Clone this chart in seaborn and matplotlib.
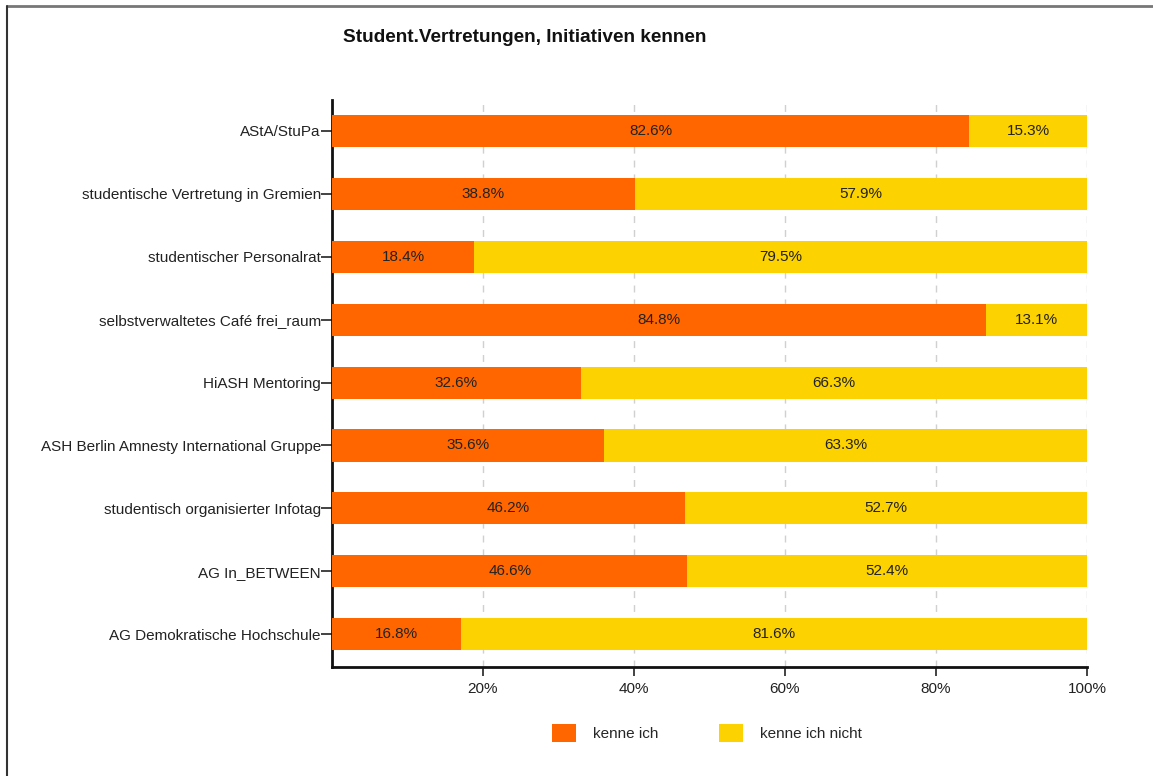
import matplotlib
matplotlib.use("Agg")
import matplotlib.pyplot as plt
import seaborn as sns
import pandas as pd
import numpy as np
from matplotlib.patches import Rectangle
from matplotlib.lines import Line2D

categories = [
    "AStA/StuPa",
    "studentische Vertretung in Gremien",
    "studentischer Personalrat",
    "selbstverwaltetes Café frei_raum",
    "HiASH Mentoring",
    "ASH Berlin Amnesty International Gruppe",
    "studentisch organisierter Infotag",
    "AG In_BETWEEN",
    "AG Demokratische Hochschule",
]
kenne_ich = [82.6, 38.8, 18.4, 84.8, 32.6, 35.6, 46.2, 46.6, 16.8]
kenne_ich_nicht = [15.3, 57.9, 79.5, 13.1, 66.3, 63.3, 52.7, 52.4, 81.6]
series_names = ["kenne ich", "kenne ich nicht"]
x_ticks = [20, 40, 60, 80, 100]
x_tick_labels = ["20%", "40%", "60%", "80%", "100%"]
title = "Student.Vertretungen, Initiativen kennen"

ORANGE = "#FF6600"
YELLOW = "#FCD200"

sns.set_theme(style="white")
plt.rcParams["font.family"] = ["Liberation Sans", "DejaVu Sans"]

a = np.array(kenne_ich)
b = np.array(kenne_ich_nicht)
tot = a + b
a_n = a / tot * 100
b_n = b / tot * 100

df = pd.DataFrame({"cat": categories, "a": a_n, "total": a_n + b_n})

fig = plt.figure(figsize=(11.53, 7.76), dpi=100)
W, H = 1153, 776
ax = fig.add_axes([332 / W, 1 - 667 / H, (1087 - 332) / W, (667 - 100) / H])

sns.barplot(data=df, y="cat", x="total", orient="h", color=YELLOW, width=0.51,
            saturation=1, ax=ax, edgecolor="none", zorder=3)
sns.barplot(data=df, y="cat", x="a", orient="h", color=ORANGE, width=0.51,
            saturation=1, ax=ax, edgecolor="none", zorder=3)

FS = 11
for i in range(len(categories)):
    ax.text(a_n[i] / 2, i, f"{kenne_ich[i]:.1f}%", ha="center", va="center",
            fontsize=FS, color="#222222", zorder=5)
    ax.text(a_n[i] + b_n[i] / 2, i, f"{kenne_ich_nicht[i]:.1f}%", ha="center",
            va="center", fontsize=FS, color="#222222", zorder=5)

ax.set_xlim(0, 100)
ax.set_ylim(len(categories) - 1 + 0.52, -0.49)
ax.set_xticks(x_ticks)
ax.set_xticklabels(x_tick_labels, fontsize=FS, color="#222222")
ax.set_xlabel("")
ax.set_ylabel("")
ax.tick_params(axis="y", labelsize=FS, labelcolor="#222222", left=True,
               length=8, width=1.2, color="#222222", pad=0)
ax.tick_params(axis="x", bottom=True, length=6.5, width=1.2, color="#222222", pad=4)
for xt in x_ticks:
    ax.axvline(xt, color="#d0d0d0", linestyle=(0, (5, 5)), linewidth=1, zorder=1)

for s in ["top", "right"]:
    ax.spines[s].set_visible(False)
for s in ["left", "bottom"]:
    ax.spines[s].set_color("#111111")
    ax.spines[s].set_linewidth(2)
ax.grid(False)

fig.text(343 / W, 1 - 37 / H, title, fontsize=13.7, fontweight="bold",
         ha="left", va="center", color="#111111")

# legend
handles = [Rectangle((0, 0), 1, 1, facecolor=ORANGE, edgecolor="none"),
           Rectangle((0, 0), 1, 1, facecolor=YELLOW, edgecolor="none")]
fig.legend(handles, series_names, loc="center", bbox_to_anchor=(707 / W, 1 - 733 / H),
           ncol=2, frameon=False, fontsize=FS, handlelength=1.57, handleheight=1.4,
           handletextpad=1.1, columnspacing=4.0, borderpad=0)

# outer frame (top and left lines only)
fig.lines.append(Line2D([7 / W, 1], [1 - 6 / H, 1 - 6 / H], transform=fig.transFigure,
                        color="#777777", linewidth=2))
fig.lines.append(Line2D([7 / W, 7 / W], [0, 1 - 6 / H], transform=fig.transFigure,
                        color="#333333", linewidth=1.5))

fig.savefig("out.png", dpi=100)
